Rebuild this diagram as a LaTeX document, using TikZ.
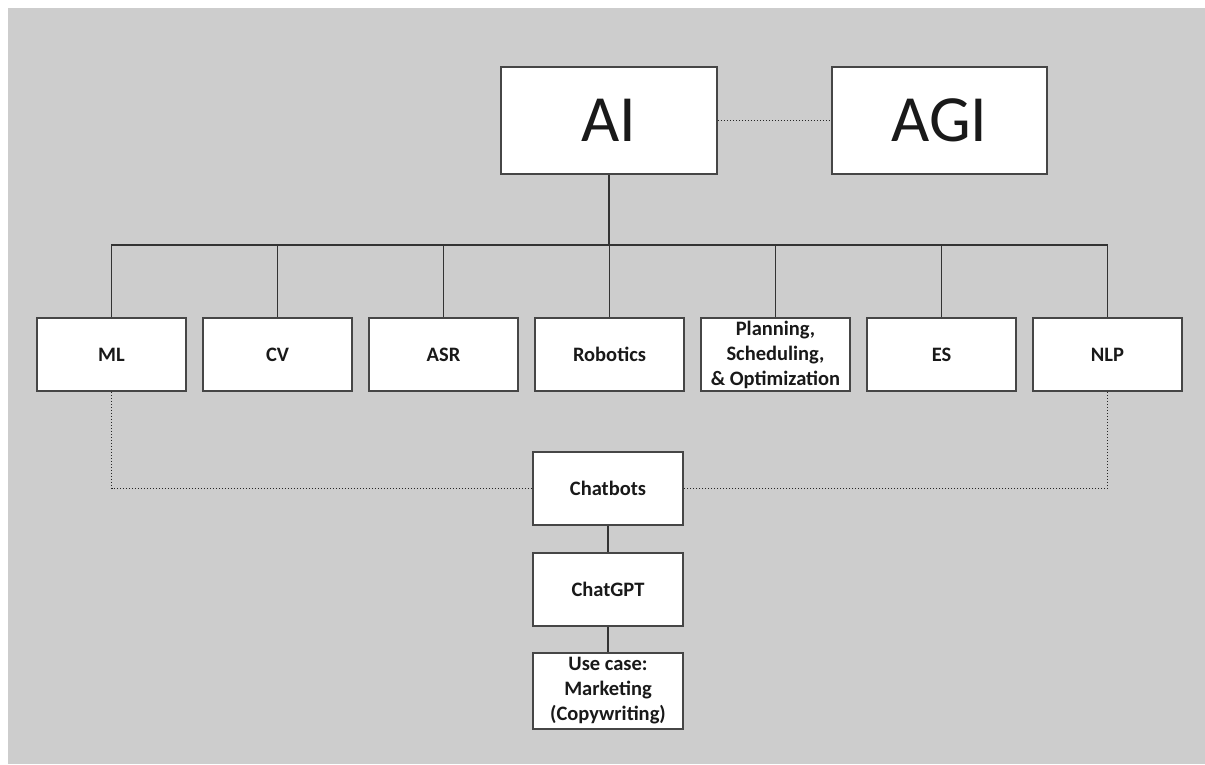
\documentclass[tikz,border=0pt]{standalone}
\usepackage{fontspec}
\setmainfont{Carlito}
\usetikzlibrary{calc}
\definecolor{bg}{RGB}{205,205,205}
\definecolor{edge}{RGB}{70,70,70}
\tikzset{
  box/.style={draw=edge, line width=1.6pt, fill=white, inner sep=0pt, align=center,
    font=\bfseries\fontsize{20.5}{25}\selectfont, text=black!90},
  bigbox/.style={box, minimum width=216pt, minimum height=107pt, font=\fontsize{66}{70}\selectfont},
  catbox/.style={box, minimum width=149pt, minimum height=73pt},
  conn/.style={draw=black!80, line width=1.4pt},
  dotconn/.style={draw=black!85, line width=1.8pt, dash pattern=on 1.5pt off 1.5pt}
}
\begin{document}
\begin{tikzpicture}[x=1pt,y=-1pt]
\useasboundingbox (0,0) rectangle (1205,764);
\fill[white] (0,0) rectangle (1205,764);
\fill[bg] (8,8) rectangle (1205,764);
\node[bigbox] (AI) at (609,120.5) {AI};
\node[bigbox, minimum width=215pt] (AGI) at (939.5,120.5) {AGI};
\node[catbox] (ML) at (111.5,354.5) {ML};
\node[catbox] (CV) at (277.5,354.5) {CV};
\node[catbox] (ASR) at (443.5,354.5) {ASR};
\node[catbox] (ROB) at (609.5,354.5) {Robotics};
\node[catbox] (PSO) at (775.5,354.5) {Planning,\\Scheduling,\\\& Optimization};
\node[catbox] (ES) at (941.5,354.5) {ES};
\node[catbox] (NLP) at (1107.5,354.5) {NLP};
\node[catbox, minimum width=150pt] (CB) at (608,488.5) {Chatbots};
\node[catbox, minimum width=150pt] (GPT) at (608,589.5) {ChatGPT};
\node[catbox, minimum width=150pt, minimum height=76pt] (UC) at (608,691) {Use case:\\Marketing\\(Copywriting)};
\coordinate (bus) at (609,245);
\draw[conn] (AI.south) -- (bus);
\foreach \n in {ML,CV,ASR,ROB,PSO,ES,NLP} { \draw[conn] (bus) -| (\n.north); }
\draw[dotconn] (AI.east) -- (AGI.west);
\draw[dotconn] (ML.south) |- (CB.west);
\draw[dotconn] (NLP.south) |- (CB.east);
\draw[conn] (CB.south) -- (GPT.north);
\draw[conn] (GPT.south) -- (UC.north);
\end{tikzpicture}
\end{document}
